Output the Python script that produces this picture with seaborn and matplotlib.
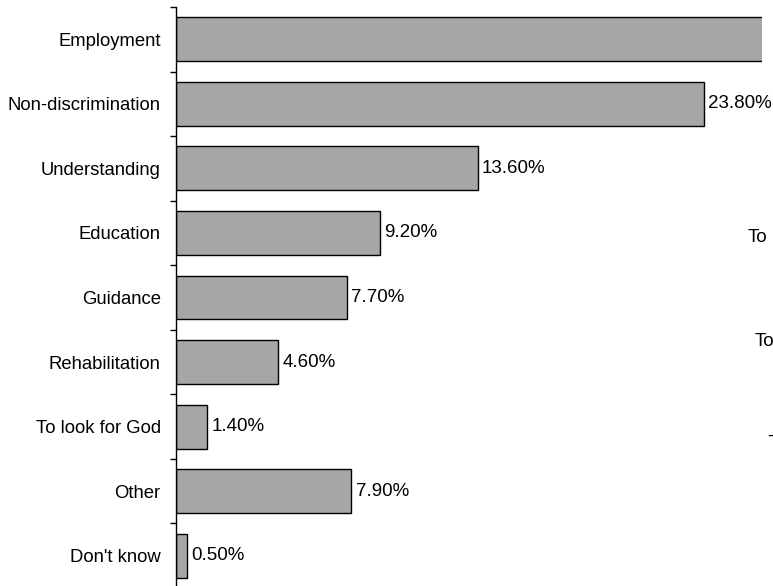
"""
Horizontal bar chart of survey answers (share of respondents)
"""

import matplotlib.pyplot as plt
import numpy as np
import pandas as pd
import seaborn as sns
from matplotlib.ticker import FixedLocator

categories = [
    "Employment",
    "Non-discrimination",
    "Understanding",
    "Education",
    "Guidance",
    "Rehabilitation",
    "To look for God",
    "Other",
    "Don't know",
]
shares = [31.3, 23.8, 13.6, 9.2, 7.7, 4.6, 1.4, 7.9, 0.5]

# clipped fragments of text visible at the right edge
edge_texts = ["To", "To", "-"]

sns.set_style("white")
plt.rcParams["font.family"] = ["Liberation Sans", "DejaVu Sans"]
plt.rcParams["text.color"] = "black"
plt.rcParams["ytick.color"] = "black"

df = pd.DataFrame({"category": categories, "share": shares})

fig = plt.figure(figsize=(7.73, 5.86), dpi=100)
ax = fig.add_axes([176 / 773, -2 / 586, 586 / 773, 581 / 586])

sns.barplot(
    data=df,
    x="share",
    y="category",
    orient="h",
    color="#a6a6a6",
    saturation=1,
    edgecolor="black",
    linewidth=1,
    width=0.68,
    ax=ax,
)

xmax = 586 / 22.18
ax.set_xlim(0, xmax)
ax.set_ylim(len(categories) - 0.5, -0.5)
ax.set_xlabel("")
ax.set_ylabel("")
ax.set_xticks([])
for side in ["top", "right", "bottom"]:
    ax.spines[side].set_visible(False)
ax.spines["left"].set_color("black")
ax.spines["left"].set_linewidth(1)

ax.tick_params(axis="y", which="major", length=0, pad=11, labelsize=13.3,
               labelcolor="black")
ax.yaxis.set_minor_locator(FixedLocator(np.arange(-0.5, len(categories), 1.0)))
ax.tick_params(axis="y", which="minor", length=4, width=1, color="black", left=True)

for i, v in enumerate(shares):
    if v < xmax - 2:
        ax.text(v + 0.2, i, f"{v:.2f}%", va="center", ha="left", fontsize=13.5)

fig.text(748 / 773, 1 - 237 / 586, edge_texts[0], ha="left", va="center",
         fontsize=13.5)
fig.text(755 / 773, 1 - 341 / 586, edge_texts[1], ha="left", va="center",
         fontsize=13.5)
fig.text(767 / 773, 1 - 436 / 586, edge_texts[2], ha="left", va="center",
         fontsize=13.5)

fig.savefig("out.png", dpi=100)
